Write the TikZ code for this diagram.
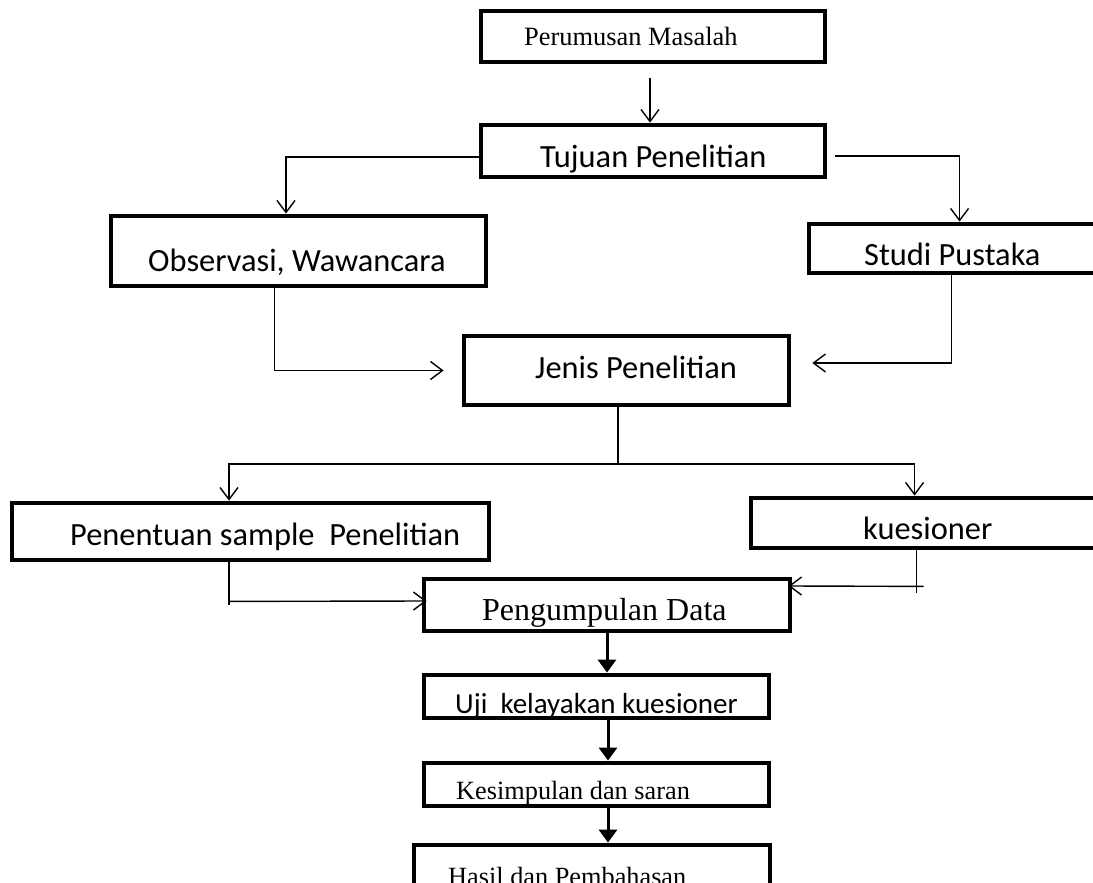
\documentclass[tikz,border=0pt]{standalone}
\usepackage{fontspec}
\setmainfont{Liberation Serif}
\newfontfamily\calfont{Carlito}
\usetikzlibrary{arrows.meta}
\begin{document}
\begin{tikzpicture}[x=1pt,y=-1pt,
  box/.style={draw, line width=4.8pt, inner sep=0pt, minimum width=#1},
  arr/.style={-{Straight Barb[length=12pt,width=18pt]}, line width=1.4pt},
  ln/.style={line width=1.4pt},
  tarr/.style={-{Triangle[length=13pt,width=18pt]}, line width=3pt},
  txt/.style={inner sep=0pt, anchor=base west},
  tms/.style={font=\fontsize{#1}{#1}\selectfont},
  cal/.style={font=\calfont\fontsize{#1}{#1}\selectfont}]
\useasboundingbox (0,0) rectangle (1093,883);
\clip (0,0) rectangle (1093,883);
% boxes
\node[box=344pt, minimum height=51pt] (P)  at (653,36.5) {};
\node[box=344pt, minimum height=52pt] (T)  at (653,151) {};
\node[box=375pt, minimum height=70pt] (O)  at (298.5,251) {};
\node[box=301pt, minimum height=49pt] (S)  at (959.5,248.5) {};
\node[box=325pt, minimum height=69pt] (J)  at (626.5,370.5) {};
\node[box=477pt, minimum height=57pt] (Pe) at (250.5,531.5) {};
\node[box=359pt, minimum height=50pt] (K)  at (930.5,523) {};
\node[box=366pt, minimum height=52pt] (PD) at (607,605) {};
\node[box=345pt, minimum height=43pt] (U)  at (596.5,696.5) {};
\node[box=345pt, minimum height=43pt] (Ke) at (596.5,784.5) {};
\node[box=356pt, minimum height=60pt] (H)  at (592,875) {};
% texts
\node[txt, tms=26.4] (tP) at (524,46) {Perumusan Masalah};
\node[txt, cal=32.4] (tT) at (540,167) {Tujuan Penelitian};
\node[txt, cal=32.4] (tO) at (148,271) {Observasi, Wawancara};
\node[txt, cal=32.4] (tS) at (864,265) {Studi Pustaka};
\node[txt, cal=32.4] (tJ) at (535,378) {Jenis Penelitian};
\node[txt, cal=32.4] (tPe) at (70,545) {Penentuan sample\ \ Penelitian};
\node[txt, cal=32.4] (tK) at (863,539) {kuesioner};
\node[txt, tms=32] (tPD) at (482,620) {Pengumpulan Data};
\node[txt, cal=29] (tU) at (455,713) {Uji\ \ kelayakan kuesioner};
\node[txt, tms=26.3] (tKe) at (456,799) {Kesimpulan dan saran};
\node[txt, tms=26.3] (tH) at (448,885) {Hasil dan Pembahasan};
% connectors
\draw[arr] ([xshift=-3pt,yshift=-14pt]P.south) -- ([xshift=-3pt]P.south |- T.north);
\draw[arr] ([yshift=-6pt]T.west) -| ([xshift=-12.5pt]O.north);
\draw[arr] ([xshift=8pt,yshift=-5pt]T.east) -| ([xshift=153pt]S.north west);
\draw[arr] ([xshift=166pt]O.south west) |- ([xshift=-18pt]J.west);
\draw[arr] ([xshift=145pt]S.south west) |- ([xshift=21pt,yshift=7.5pt]J.east);
\coordinate (split) at (618,464);
\draw[ln] ([xshift=-8.5pt]J.south) -- (split);
\draw[arr] (split) -| ([xshift=-21.5pt]Pe.north);
\draw[arr] (split) -| ([xshift=166pt]K.north west);
\draw[ln] ([xshift=-21.5pt]Pe.south) -- ++(0,43);
\draw[arr] ([xshift=-21.5pt,yshift=-39pt]Pe.south) -- ([xshift=5pt,yshift=4pt]PD.west);
\draw[ln] ([xshift=168pt]K.south west) -- ++(0,43);
\draw[arr] ([xshift=175pt,yshift=-36pt]K.south west) -- ([xshift=-4pt,yshift=19pt]PD.east);
\draw[tarr] (PD.south) -- (PD.south |- U.north);
\draw[tarr] ([xshift=11.5pt]U.south) -- ([xshift=11.5pt]U.south |- Ke.north);
\draw[tarr] ([xshift=11.5pt]Ke.south) -- ([xshift=11.5pt]Ke.south |- H.north);
\end{tikzpicture}
\end{document}
